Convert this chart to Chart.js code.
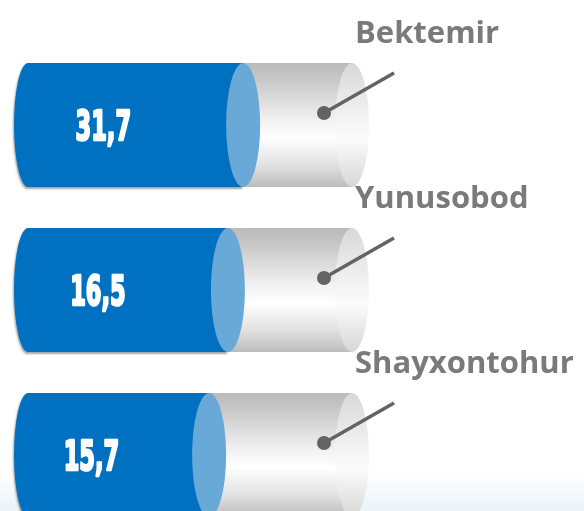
<!DOCTYPE html>
<html>
<head>
<meta charset="utf-8">
<script src="https://cdn.jsdelivr.net/npm/chart.js@4/dist/chart.umd.min.js"></script>
<style>
  html, body { margin: 0; padding: 0; background: #ffffff; }
  #wrap { position: relative; width: 584px; height: 511px; }
</style>
</head>
<body>
<div id="wrap"><canvas id="chart"></canvas></div>
<script>
/* global Chart */

// Districts, shown values, and how far the blue part fills each cylinder
// (in % of the cylinder length - it is not to scale).
const districts = ["Bektemir", "Yunusobod", "Shayxontohur"];
const values = [31.7, 16.5, 15.7];
const fillLevel = [66.4, 61.7, 55.9];
const restLevel = fillLevel.map((v) => 100 - v);

const BLUE = "#0070c0";
const BLUE_END = "#69a9d8";
const LABEL = "#7a7a7a";
const LEADER = "#636363";

const fmt = (v) => v.toFixed(1).replace(".", ",");

// soft blue haze along the bottom edge of the slide
const backdrop = {
  id: "backdrop",
  beforeDraw(chart) {
    const { ctx, width, height } = chart;
    const g = ctx.createLinearGradient(0, height - 40, 0, height);
    g.addColorStop(0, "rgba(230,241,246,0)");
    g.addColorStop(1, "rgba(230,241,246,0.8)");
    ctx.save();
    ctx.fillStyle = g;
    ctx.fillRect(0, height - 40, width, 40);
    ctx.restore();
  },
};

function ellipse(ctx, cx, cy, rx, ry) {
  ctx.beginPath();
  ctx.ellipse(cx, cy, rx, ry, 0, 0, Math.PI * 2);
  ctx.closePath();
}

// The bars themselves are transparent; this paints them as cylinders
// using the geometry Chart.js worked out for each bar.
const cylinders = {
  id: "cylinders",
  afterDatasetsDraw(chart) {
    const ctx = chart.ctx;
    const fills = chart.getDatasetMeta(0).data;
    const rests = chart.getDatasetMeta(1).data;

    fills.forEach((bar, i) => {
      const b = bar.getProps(["x", "y", "base", "height"], true);
      const r = rests[i].getProps(["x", "base"], true);
      const ry = b.height / 2;
      const top = b.y - ry;
      const start = b.base;
      const mid = b.x;
      const end = r.x;

      ctx.save();

      // grey body
      const body = ctx.createLinearGradient(0, top, 0, top + b.height);
      body.addColorStop(0, "#bababa");
      body.addColorStop(0.12, "#c6c6c6");
      body.addColorStop(0.45, "#f0f0f0");
      body.addColorStop(0.6, "#ffffff");
      body.addColorStop(0.82, "#e2e2e2");
      body.addColorStop(1, "#bcbcbc");
      ctx.fillStyle = body;
      ctx.fillRect(mid, top, end - mid, b.height);

      // grey end cap
      const cap = ctx.createLinearGradient(0, top, 0, top + b.height);
      cap.addColorStop(0, "#d8d8d8");
      cap.addColorStop(0.5, "#f6f6f6");
      cap.addColorStop(0.62, "#fbfbfb");
      cap.addColorStop(1, "#d6d6d6");
      ctx.fillStyle = cap;
      ellipse(ctx, end, b.y, 17, ry);
      ctx.fill();

      // blue body with rounded left end
      ctx.shadowColor = "rgba(0,0,0,0.35)";
      ctx.shadowOffsetX = -1;
      ctx.shadowOffsetY = 2;
      ctx.shadowBlur = 2;
      ctx.fillStyle = BLUE;
      ctx.beginPath();
      ctx.ellipse(start, b.y, 14, ry, 0, Math.PI / 2, Math.PI * 1.5);
      ctx.lineTo(mid, top);
      ctx.lineTo(mid, top + b.height);
      ctx.closePath();
      ctx.fill();
      ctx.shadowColor = "transparent";

      // light blue face of the filled part
      ctx.fillStyle = BLUE_END;
      ellipse(ctx, mid, b.y, 17, ry);
      ctx.fill();

      // value, squeezed to look like a condensed display face
      ctx.save();
      ctx.translate(start + (mid - start) * 0.35, b.y + 15);
      ctx.scale(0.61, 1);
      ctx.font = 'bold 41px "DejaVu Sans Condensed", "DejaVu Sans", sans-serif';
      ctx.textAlign = "center";
      ctx.textBaseline = "alphabetic";
      ctx.fillStyle = "#ffffff";
      ctx.strokeStyle = "#ffffff";
      ctx.lineWidth = 2.5;
      ctx.lineJoin = "round";
      ctx.fillText(fmt(values[i]), 0, 0);
      ctx.strokeText(fmt(values[i]), 0, 0);
      ctx.restore();

      // leader line + district name
      const dx = end - 28;
      const dy = b.y - 12;
      ctx.strokeStyle = LEADER;
      ctx.lineWidth = 3.5;
      ctx.lineCap = "butt";
      ctx.beginPath();
      ctx.moveTo(dx, dy);
      ctx.lineTo(dx + 70, dy - 40);
      ctx.stroke();
      ctx.fillStyle = LEADER;
      ellipse(ctx, dx, dy, 7, 7);
      ctx.fill();

      ctx.fillStyle = LABEL;
      ctx.font = 'bold 31px "Open Sans", "Noto Sans", sans-serif';
      ctx.textAlign = "left";
      ctx.textBaseline = "alphabetic";
      ctx.fillText(districts[i], end + 3, b.y - 82);

      ctx.restore();
    });
  },
};

// eslint-disable-next-line no-new
new Chart(document.getElementById("chart"), {
  type: "bar",
  plugins: [backdrop, cylinders],
  data: {
    labels: districts,
    datasets: [
      {
        label: "fill",
        data: fillLevel,
        backgroundColor: "rgba(0,0,0,0)",
        barThickness: 124,
        clip: false,
      },
      {
        label: "rest",
        data: restLevel,
        backgroundColor: "rgba(0,0,0,0)",
        barThickness: 124,
        clip: false,
      },
    ],
  },
  options: {
    indexAxis: "y",
    animation: false,
    responsive: true,
    maintainAspectRatio: false,
    events: [],
    layout: {
      padding: { left: 28, right: 232, top: 125, bottom: 56 },
    },
    plugins: {
      legend: { display: false },
      tooltip: { enabled: false },
    },
    scales: {
      x: { stacked: true, min: 0, max: 100, display: false },
      y: { stacked: true, offset: false, display: false },
    },
  },
});
</script>
</body>
</html>
